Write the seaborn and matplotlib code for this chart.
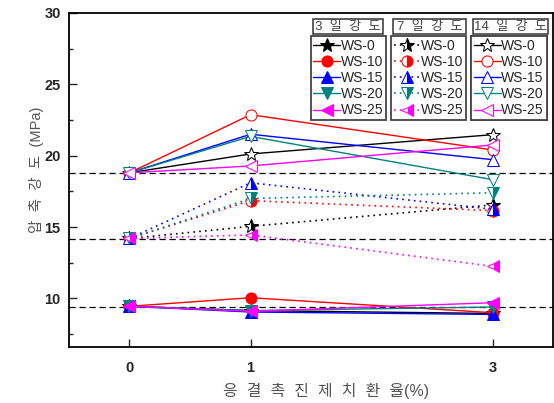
import matplotlib
matplotlib.use("Agg")
import matplotlib.pyplot as plt
from matplotlib.patches import Rectangle
import seaborn as sns

sns.set_theme(style="ticks")
plt.rcParams['font.family'] = ['Liberation Sans', 'Noto Sans CJK KR', 'DejaVu Sans']

x = [0, 1, 3]
series = ["WS-0", "WS-10", "WS-15", "WS-20", "WS-25"]
day3 = [[9.45, 9.15, 8.95], [9.45, 10.05, 9.0], [9.45, 9.05, 8.88],
        [9.45, 9.15, 9.4], [9.45, 9.1, 9.7]]
day7 = [[14.2, 15.05, 16.55], [14.2, 16.85, 16.15], [14.2, 18.1, 16.25],
        [14.2, 17.0, 17.4], [14.2, 14.45, 12.25]]
day14 = [[18.8, 20.12, 21.47], [18.8, 22.87, 20.4], [18.8, 21.5, 19.72],
         [18.8, 21.35, 18.32], [18.8, 19.28, 20.75]]
ref_lines = [18.8, 14.15, 9.42]
titles = ["3  일  강  도", "7  일  강  도", "14  일  강  도"]

colors = ["black", "red", "blue", "#008080", "magenta"]
markers = ["*", "o", "^", "v", "<"]
msizes = [10, 8, 8, 8, 8]

fig = plt.figure(figsize=(5.54, 4.03), dpi=100)
ax = fig.add_axes([0.1245, 0.139, 0.874, 0.829])

for y in ref_lines:
    ax.axhline(y, color="black", lw=0.9, ls=(0, (5, 3)), zorder=1)

groups = []
for k, data in enumerate([day3, day7, day14]):
    handles = []
    for i, name in enumerate(series):
        kw = dict(color=colors[i], marker=markers[i], markersize=msizes[i],
                  markeredgecolor=colors[i], lw=1.0)
        if k == 0:
            kw.update(markerfacecolor=colors[i], linestyle="-")
        elif k == 1:
            kw.update(markerfacecolor=colors[i], fillstyle="right",
                      markerfacecoloralt="white", linestyle=(0, (1, 2.5)), lw=1.2)
        else:
            kw.update(markerfacecolor="white", linestyle="-")
        sns.lineplot(x=x, y=data[i], ax=ax, legend=False, zorder=3 + k, **kw)
        handles.append(ax.lines[-1])
    groups.append(handles)

ax.set_xlim(-0.5, 3.5)
ax.set_ylim(6.6, 30)
ax.set_xticks(x)
ax.set_yticks([10, 15, 20, 25, 30])
ax.set_yticks([7.5, 12.5, 17.5, 22.5, 27.5], minor=True)
ax.tick_params(axis="both", which="major", direction="in", length=6, width=1,
               labelsize=10.5)
ax.tick_params(axis="x", which="major", pad=10)
ax.tick_params(axis="y", which="major", pad=6)
ax.tick_params(axis="y", which="minor", direction="in", length=3, width=1)
for lab in ax.get_xticklabels() + ax.get_yticklabels():
    lab.set_fontweight("bold")
for s in ax.spines.values():
    s.set_linewidth(1.3)
    s.set_color("black")

ax.set_ylabel("압  축  강  도  (MPa)", color="#555555", fontsize=10.5)
ax.yaxis.set_label_coords(-0.052, 0.53)
ax.set_xlabel("응  결  촉  진  제  치  환  율(%)", color="#555555", fontsize=11.5)
ax.xaxis.set_label_coords(0.531, -0.108)

lx = [0.499, 0.665, 0.831]
tbox = [(0.504, 0.649), (0.669, 0.820), (0.835, 0.990)]
for k in range(3):
    leg = ax.legend(groups[k], series, loc="upper left",
                    bbox_to_anchor=(lx[k], 0.93), fontsize=10, frameon=True,
                    fancybox=False, edgecolor="#444444", handlelength=1.9,
                    handletextpad=0.05, labelspacing=0.15, borderpad=0.2,
                    borderaxespad=0, framealpha=1)
    leg.get_frame().set_linewidth(1.3)
    ax.add_artist(leg)
    x0, x1 = tbox[k]
    ax.add_patch(Rectangle((x0, 0.937), x1 - x0, 0.045, transform=ax.transAxes,
                           fc="white", ec="#333333", lw=1.1, zorder=10,
                           clip_on=False))
    ax.text((x0 + x1) / 2, 0.959, titles[k], transform=ax.transAxes,
            ha="center", va="center", fontsize=9.5, color="#444444", zorder=11)

fig.savefig("out.png", dpi=100)
